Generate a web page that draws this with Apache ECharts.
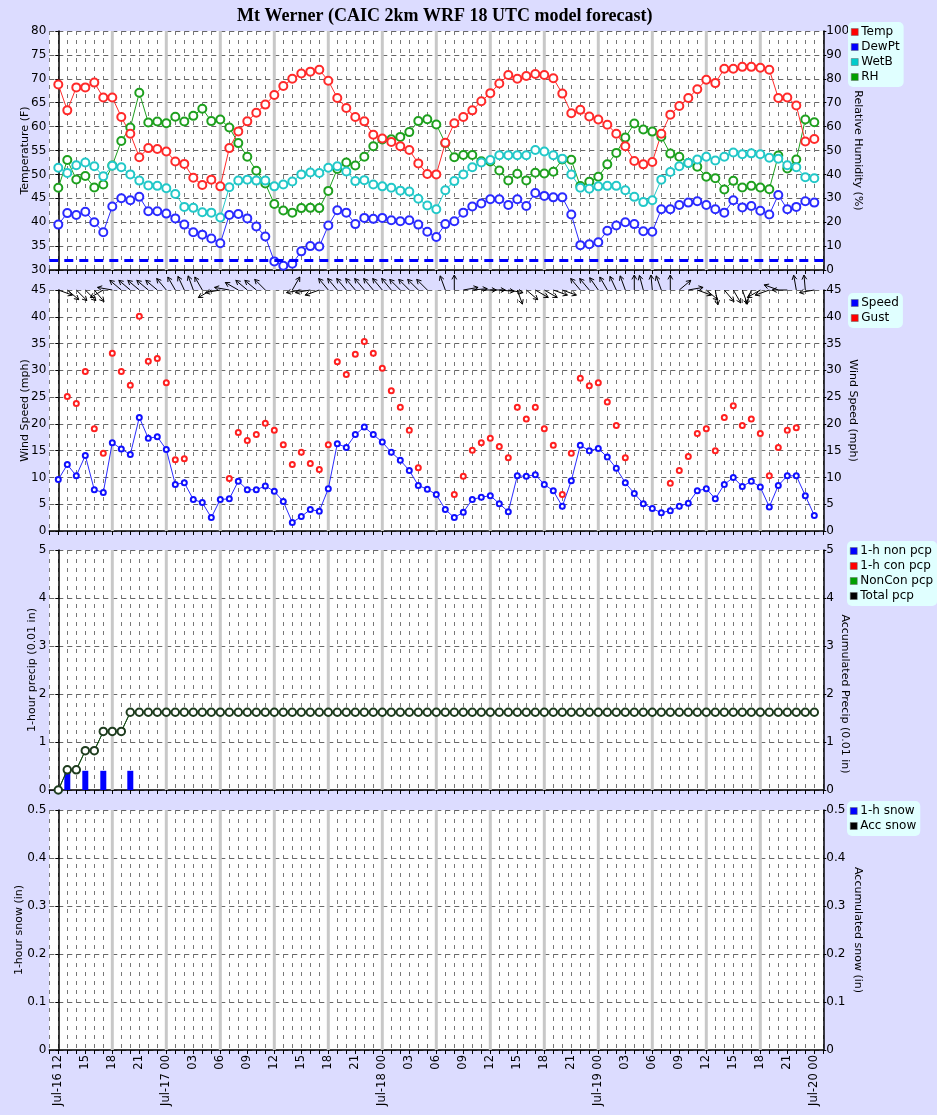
<!DOCTYPE html>
<html>
<head>
<meta charset="utf-8">
<title>Mt Werner</title>
<script src="https://cdn.jsdelivr.net/npm/echarts@6.0.0/dist/echarts.min.js"></script>
<style>
  html, body { margin: 0; padding: 0; background: #dcdcff; }
  #chart { width: 937px; height: 1115px; }
</style>
</head>
<body>
<div id="chart"></div>
<script>
// x tick labels, one every 3 hours starting Jul-16 12 UTC (hour 0)
const xLabels = ['Jul-16 12', '15', '18', '21', 'Jul-17 00', '03', '06', '09', '12', '15', '18', '21',
  'Jul-18 00', '03', '06', '09', '12', '15', '18', '21', 'Jul-19 00', '03', '06', '09', '12', '15', '18', '21',
  'Jul-20 00'];
// thick grey marks every 6 h
const bandHours = [6, 12, 18, 24, 30, 36, 42, 48, 54, 60, 66, 72, 78];

// hourly values, hour 0 .. 84
const temp = [68.8, 63.4, 68.2, 68.2, 69.2, 66.1, 66.1, 62.0, 58.5, 53.6, 55.5, 55.3, 54.8, 52.7, 52.2, 49.3, 47.8, 48.9, 47.5, 55.5,
  59.0, 61.1, 62.9, 64.6, 66.6, 68.5, 70.0, 71.1, 71.5, 71.9,
  69.6, 66.0, 63.9, 62.0, 61.1, 58.3, 57.5, 56.8, 55.9, 55.1, 52.3, 50.1, 50.0, 56.6, 60.7, 62.0, 63.4, 65.3, 67.0, 69.0,
  70.8, 70.0, 70.6, 71.0, 70.8, 70.1, 66.9, 62.8, 63.5, 62.1, 61.5,
  60.4, 58.5, 55.9, 52.8, 52.1, 52.6, 58.5, 62.5, 64.3, 66.0, 67.8, 69.8, 69.1, 72.1, 72.1, 72.5, 72.5, 72.3, 71.9, 66.0,
  66.1, 64.4, 56.9, 57.4];
const dewPt = [39.5, 41.9, 41.5, 42.2, 40.0, 37.9, 43.3, 45.0, 44.6, 45.3, 42.3, 42.3, 41.8, 40.8, 39.5, 37.9, 37.4, 36.6, 35.6, 41.5,
  41.7, 40.8, 39.1, 37.0, 31.8, 30.9, 31.3, 33.9, 35.0, 34.9,
  39.3, 42.5, 42.0, 39.6, 40.9, 40.7, 40.9, 40.4, 40.2, 40.4, 39.5, 38.0, 36.9, 39.6, 40.2, 42.0, 43.3, 43.9, 44.8, 44.8,
  43.6, 44.8, 43.4, 46.1, 45.5, 45.2, 45.2, 41.6, 35.2, 35.4, 35.8,
  38.2, 39.3, 40.0, 39.6, 38.1, 38.0, 42.7, 42.7, 43.6, 44.1, 44.4, 43.6, 42.7, 42.0, 44.6, 43.1, 43.4, 42.4, 41.6, 45.7,
  42.7, 43.2, 44.4, 44.1];
const wetB = [51.4, 50.3, 51.9, 52.5, 51.7, 49.6, 51.8, 51.5, 50.0, 48.7, 47.7, 47.6, 47.1, 45.9, 43.2, 43.0, 42.1, 42.0, 41.0, 47.3,
  48.7, 48.9, 48.7, 48.7, 47.5, 47.9, 48.5, 50.0, 50.4, 50.3,
  51.4, 51.7, 50.6, 48.6, 48.8, 47.9, 47.5, 47.2, 46.6, 46.4, 44.9, 43.5, 42.7, 46.7, 48.6, 50.0, 51.5, 52.5, 53.0, 54.0,
  54.0, 54.0, 54.0, 55.1, 54.8, 54.0, 53.3, 50.0, 47.2, 47.0, 47.5,
  47.6, 47.6, 46.7, 45.3, 44.2, 44.6, 48.9, 50.5, 51.7, 52.4, 53.1, 53.7, 52.9, 53.7, 54.6, 54.2, 54.4, 54.2, 53.5, 53.3,
  51.9, 51.5, 49.4, 49.2];
const rh = [34.4, 46.0, 37.9, 39.3, 34.5, 35.8, 43.7, 54.0, 59.6, 74.2, 61.7, 62.1, 61.4, 64.1, 62.1, 64.5, 67.5, 62.3, 63.0, 59.6,
  53.1, 47.4, 41.5, 36.2, 27.6, 24.9, 24.0, 25.9, 26.0, 25.9,
  33.1, 42.3, 45.0, 43.7, 47.4, 51.8, 54.6, 54.7, 55.7, 57.7, 62.3, 63.1, 60.9, 53.1, 47.2, 48.1, 48.1, 45.5, 45.4, 41.6,
  37.5, 40.3, 37.5, 40.7, 40.4, 41.1, 46.2, 46.1, 35.1, 36.9, 39.0,
  44.2, 49.0, 55.4, 61.3, 58.8, 57.9, 55.8, 48.7, 47.4, 44.8, 43.2, 39.0, 38.4, 33.7, 37.3, 34.5, 35.2, 34.5, 33.8, 47.9,
  42.5, 46.2, 63.0, 61.8];
const freezeLine = 32;

const speed = [9.6, 12.4, 10.3, 14.1, 7.7, 7.2, 16.5, 15.3, 14.3, 21.2, 17.3, 17.6, 15.2, 8.7, 9.0, 5.9, 5.3, 2.5, 5.9, 6.0,
  9.3, 7.7, 7.7, 8.4, 7.4, 5.5, 1.6, 2.7, 4.0, 3.7,
  7.9, 16.3, 15.6, 18.0, 19.4, 18.0, 16.6, 14.7, 13.2, 11.3, 8.5, 7.8, 6.8, 4.0, 2.5, 3.5, 5.9, 6.3, 6.6, 5.1,
  3.6, 10.3, 10.2, 10.5, 8.7, 7.5, 4.6, 9.4, 16.0, 15.0,
  15.4, 13.8, 11.7, 9.0, 7.0, 5.1, 4.2, 3.4, 3.8, 4.6, 5.2, 7.5, 7.9, 6.0, 8.7, 10.0, 8.3, 9.3, 8.2, 4.5,
  8.5, 10.3, 10.3, 6.6, 2.9];
const gust = [null, 25.1, 23.8, 29.8, 19.1, 14.5, 33.2, 29.8, 27.2, 40.1, 31.7, 32.2, 27.7, 13.3, 13.5, null, null, null, null, 9.8,
  18.4, 16.9, 18.0, 20.1, 18.8, 16.1, 12.4, 14.7, 12.6, 11.5,
  16.1, 31.6, 29.2, 33.0, 35.4, 33.2, 30.4, 26.2, 23.1, 18.8, 11.8, null, null, null, 6.8, 10.2, 15.1, 16.5, 17.3, 15.8,
  13.7, 23.1, 20.9, 23.1, 19.1, 16.0, 6.8, 14.5, 28.5, 27.1,
  27.7, 24.1, 19.7, 13.7, null, null, null, null, 8.9, 11.3, 13.9, 18.2, 19.1, 15.0, 21.2, 23.4, 19.7, 20.9, 18.2, 10.3,
  15.6, 18.8, 19.3, null, null];
// direction the wind blows from (deg), null = no arrow
const windDir = [290, 310, 315, 315, 320, 60, 100, 130, 130, 130, 130, 130, 140, 150, 155, 160, 150, 60, 80, 100,
  120, 130, 130, 135, null, null, 210, 80, 80, 70,
  140, 140, 140, 140, 140, 140, 140, 140, 135, 135, 135, 135, null, 160, 180, 260, 265, 270, 270, 275,
  280, 340, 310, 300, 300, 290, 290, null, 140, 140,
  145, 150, 155, 160, 180, 165, 175, 160, 180, 230, 260, 290, 310, 350, 320, 330, 340, 20, 60, 70,
  110, 90, 170, 175, 80];

// precip (0.01 in)
const nonPcpHours = [1, 3, 5, 8];
const nonPcp1h = [0.42, 0.40, 0.40, 0.40];
const conPcpHours = [];
const conPcp1h = [];
const accPcp = [0, 0.42, 0.42, 0.82, 0.82, 1.22, 1.22, 1.22, 1.62, 1.62, 1.62, 1.62, 1.62, 1.62, 1.62, 1.62, 1.62, 1.62, 1.62, 1.62,
  1.62, 1.62, 1.62, 1.62, 1.62, 1.62, 1.62, 1.62, 1.62, 1.62, 1.62, 1.62, 1.62, 1.62, 1.62, 1.62, 1.62, 1.62, 1.62, 1.62,
  1.62, 1.62, 1.62, 1.62, 1.62, 1.62, 1.62, 1.62, 1.62, 1.62, 1.62, 1.62, 1.62, 1.62, 1.62, 1.62, 1.62, 1.62, 1.62, 1.62,
  1.62, 1.62, 1.62, 1.62, 1.62, 1.62, 1.62, 1.62, 1.62, 1.62, 1.62, 1.62, 1.62, 1.62, 1.62, 1.62, 1.62, 1.62, 1.62, 1.62,
  1.62, 1.62, 1.62, 1.62, 1.62];
// snow (in) - nothing forecast
const snow1h = [];
const accSnow = [];

const FONT = 'DejaVu Sans';
const RED = '#ff2a2a', BLUE = '#2a2aff', CYAN = '#22c8c8', GREEN = '#1ea01e';

const pairs = arr => arr.map((v, i) => [i, v]);

const grids = [
  {top: 31, height: 239},
  {top: 290, height: 241},
  {top: 550, height: 240},
  {top: 810, height: 240}
].map(g => ({left: 49.3, right: 113.7, top: g.top, height: g.height, outerBoundsMode: 'none',
  show: true, backgroundColor: '#fff', borderWidth: 0}));

const xAxes = grids.map((g, i) => ({
  gridIndex: i, type: 'value', min: -1, max: 85, interval: 1,
  axisLine: {lineStyle: {color: '#000', width: 1.5}},
  axisTick: {length: 4, lineStyle: {color: '#000'}},
  splitLine: {show: true, lineStyle: {color: '#777', type: [4, 5], width: 1}},
  axisLabel: {
    show: i === 3, rotate: 90, margin: 5, color: '#000', fontFamily: FONT, fontSize: 11.5,
    formatter: v => (v >= 0 && v <= 84 && v % 3 === 0) ? xLabels[v / 3] : ''
  }
}));

function yAx(grid, side, min, max, interval, name, gap, split, namePad) {
  return {
    gridIndex: grid, type: 'value', position: side, min: min, max: max, interval: interval,
    name: name, nameLocation: 'middle', nameGap: gap, nameRotate: side === 'left' ? 90 : -90,
    nameMoveOverlap: false,
    nameTextStyle: {color: '#000', fontFamily: FONT, fontSize: 11, padding: namePad || 0},
    axisLine: {show: true, lineStyle: {color: '#000', width: 1.5}},
    axisTick: {show: true, length: 3, lineStyle: {color: '#000'}},
    axisLabel: {color: '#000', fontFamily: FONT, fontSize: 12, margin: 3},
    splitLine: {show: split, lineStyle: {color: '#666', type: [5, 4], width: 1}}
  };
}

const yAxes = [
  yAx(0, 'left', 30, 80, 5, 'Temperature (F)', 19, true),
  yAx(0, 'right', 0, 100, 10, 'Relative Humidity (%)', 29, false),
  yAx(1, 'left', 0, 45, 5, 'Wind Speed (mph)', 19, true),
  yAx(1, 'right', 0, 45, 5, 'Wind Speed (mph)', 24, false),
  yAx(2, 'left', 0, 5, 1, '1-hour precip (0.01 in)', 12, true),
  yAx(2, 'right', 0, 5, 1, 'Accumulated Precip (0.01 in)', 16, false, [0, 0, 0, 48]),
  yAx(3, 'left', 0, 0.5, 0.1, '1-hour snow (in)', 25, true),
  yAx(3, 'right', 0, 0.5, 0.1, 'Accumulated snow (in)', 29, false)
];

function bandSeries(g) {
  return {
    type: 'custom', xAxisIndex: g, yAxisIndex: 2 * g, z: 1, silent: true,
    data: bandHours.map(h => [h, yAxes[2 * g].min]),
    renderItem: (params, api) => {
      const cs = params.coordSys;
      const x = api.coord([api.value(0), api.value(1)])[0];
      return {type: 'rect', shape: {x: x - 1.5, y: cs.y, width: 3, height: cs.height},
        style: {fill: '#c8c8c8'}};
    }
  };
}

function lineSeries(name, data, color, xi, yi, extra) {
  return Object.assign({
    name: name, type: 'line', xAxisIndex: xi, yAxisIndex: yi, data: pairs(data), z: 3,
    symbol: 'emptyCircle', symbolSize: 8, showAllSymbol: true,
    lineStyle: {color: color, width: 1},
    itemStyle: {color: color, borderColor: color, borderWidth: 1}
  }, extra || {});
}

const arrowSeries = {
  type: 'custom', xAxisIndex: 1, yAxisIndex: 2, z: 4, silent: true, clip: false,
  data: windDir.map((d, i) => [i, d]).filter(p => p[1] !== null),
  renderItem: (params, api) => {
    const p = api.coord([api.value(0), 45]);
    const th = api.value(1) * Math.PI / 180;
    const dx = -Math.sin(th), dy = Math.cos(th);
    const L = 15, hl = 5, ha = 0.5;
    const tip = [p[0] + dx * L, p[1] + dy * L];
    const bx = -dx, by = -dy;
    const rot = a => [tip[0] + hl * (bx * Math.cos(a) - by * Math.sin(a)),
                      tip[1] + hl * (bx * Math.sin(a) + by * Math.cos(a))];
    const st = {stroke: '#000', lineWidth: 1, fill: null};
    return {type: 'group', children: [
      {type: 'polyline', shape: {points: [p, tip]}, style: st},
      {type: 'polyline', shape: {points: [rot(ha), tip, rot(-ha)]}, style: st}
    ]};
  }
};

function legend(left, top, items) {
  return {
    left: left, top: top, orient: 'vertical', icon: 'rect', itemWidth: 7, itemHeight: 7, itemGap: 1,
    backgroundColor: '#e0ffff', borderRadius: 5, padding: [3, 4, 3, 3],
    textStyle: {color: '#000', fontFamily: FONT, fontSize: 12, lineHeight: 14, padding: [0, 0, 0, -2]},
    selectedMode: false,
    data: items.map(it => ({name: it[0], itemStyle: {color: it[1], borderColor: '#666', borderWidth: 0.5}}))
  };
}

const option = {
  animation: false,
  backgroundColor: '#dcdcff',
  title: {
    text: 'Mt Werner (CAIC 2km WRF 18 UTC model forecast)', left: 232, top: 2,
    textStyle: {fontFamily: 'Liberation Serif', fontWeight: 'bold', fontSize: 18, color: '#000'}
  },
  legend: [
    legend(848, 22, [['Temp', '#ff0000'], ['DewPt', '#0000ff'], ['WetB', '#00cccc'], ['RH', '#00a000']]),
    legend(848, 293, [['Speed', '#0000ff'], ['Gust', '#ff0000']]),
    legend(847, 541, [['1-h non pcp', '#0000ff'], ['1-h con pcp', '#ff0000'], ['NonCon pcp', '#00a000'], ['Total pcp', '#000']]),
    legend(847, 801, [['1-h snow', '#0000ff'], ['Acc snow', '#000']])
  ],
  grid: grids,
  xAxis: xAxes,
  yAxis: yAxes,
  series: [
    bandSeries(0), bandSeries(1), bandSeries(2), bandSeries(3),
    // panel 1
    lineSeries('RH', rh, GREEN, 0, 1),
    lineSeries('WetB', wetB, CYAN, 0, 0),
    lineSeries('DewPt', dewPt, BLUE, 0, 0, {
      markLine: {
        silent: true, symbol: 'none', label: {show: false},
        lineStyle: {color: '#0000ff', width: 3, type: [9, 6]},
        data: [{yAxis: freezeLine}]
      }
    }),
    lineSeries('Temp', temp, RED, 0, 0),
    // panel 2
    lineSeries('Speed', speed, BLUE, 1, 2, {
      symbolSize: 5, lineStyle: {color: BLUE, width: 1},
      itemStyle: {color: '#1010ff', borderColor: '#1010ff', borderWidth: 2.5}
    }),
    {
      name: 'Gust', type: 'scatter', xAxisIndex: 1, yAxisIndex: 2, z: 3,
      data: gust.map((v, i) => [i, v]).filter(p => p[1] !== null),
      symbol: 'emptyCircle', symbolSize: 5,
      itemStyle: {color: '#ff2020', borderColor: '#ff2020', borderWidth: 2.5, opacity: 1}
    },
    arrowSeries,
    // panel 3
    {
      name: '1-h non pcp', type: 'bar', xAxisIndex: 2, yAxisIndex: 4, z: 2, barWidth: 6,
      data: nonPcpHours.map((h, i) => [h, nonPcp1h[i]]),
      itemStyle: {color: '#0000ff'}
    },
    {
      name: '1-h con pcp', type: 'bar', xAxisIndex: 2, yAxisIndex: 4, z: 2, barWidth: 6, barGap: '-100%',
      data: conPcpHours.map((h, i) => [h, conPcp1h[i]]),
      itemStyle: {color: '#ff0000'}
    },
    lineSeries('NonCon pcp', accPcp, '#008000', 2, 5, {showSymbol: false}),
    lineSeries('Total pcp', accPcp, '#1e3c1e', 2, 5, {symbolSize: 7.5}),
    // panel 4
    {
      name: '1-h snow', type: 'bar', xAxisIndex: 3, yAxisIndex: 6, barWidth: 6,
      data: snow1h, itemStyle: {color: '#0000ff'}
    },
    lineSeries('Acc snow', accSnow, '#000', 3, 7, {symbolSize: 7})
  ]
};

const chart = echarts.init(document.getElementById('chart'), null, {renderer: 'canvas'});
chart.setOption(option);
</script>
</body>
</html>
